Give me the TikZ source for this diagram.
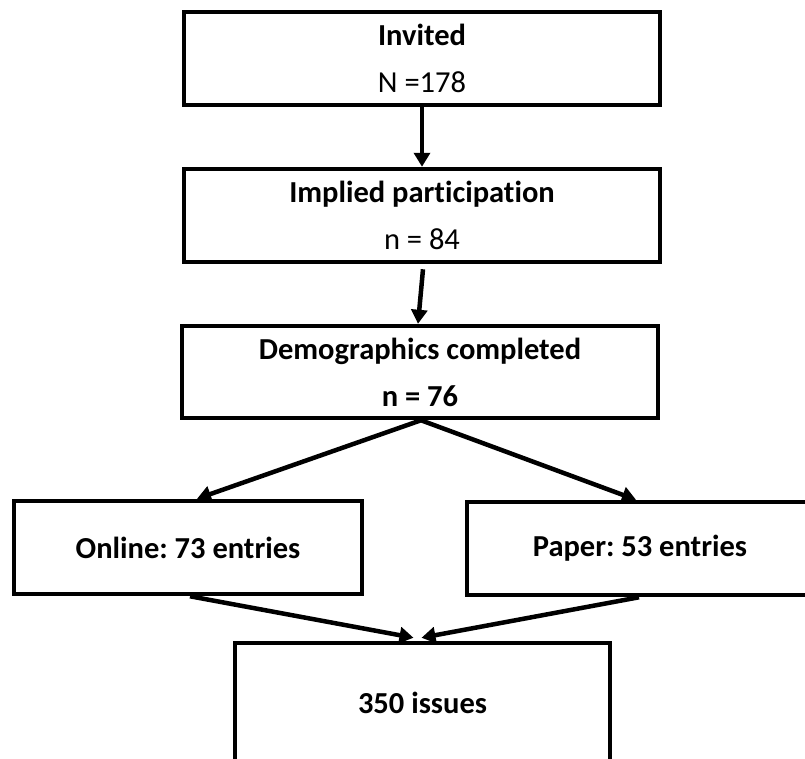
\documentclass[tikz,border=0pt]{standalone}
\usepackage{fontspec}
\setmainfont{Carlito}[Ligatures=NoCommon]
\usetikzlibrary{arrows.meta}
\begin{document}
\frenchspacing
\begin{tikzpicture}[x=1pt,y=-1pt,
  box/.style={draw=black, line width=4.5pt, rectangle, align=center, inner sep=0pt,
    font=\fontsize{30.5}{47}\selectfont\bfseries},
  arr/.style={line width=4.5pt, -{Triangle[length=14pt,width=16pt]}}]
\useasboundingbox (0,0) rectangle (805,758);
\clip (0,0) rectangle (805,758);
\node[box, minimum width=476pt, minimum height=93pt] (inv) at (422,58.5) {Invited\\\mdseries N =178};
\node[box, minimum width=476pt, minimum height=93pt] (imp) at (422,215.5) {Implied participation\\\mdseries n = 84};
\node[box, minimum width=476pt, minimum height=92pt] (dem) at (420,372) {Demographics completed\\n = 76};
\node[box, minimum width=348pt, minimum height=93pt] (onl) at (188,547.5) {Online: 73 entries};
\node[box, minimum width=346pt, minimum height=93pt] (pap) at (640,548.5) {Paper: 53 entries};
\node[box, minimum width=375pt, minimum height=120pt] (iss) at (422.5,703) {350 issues};
\draw[arr] (inv.south) -- (imp.north);
\draw[arr] ([xshift=1pt,yshift=-5pt]imp.south) -- ([xshift=-2pt]dem.north);
\draw[arr] ([xshift=1pt]dem.south) -- ([xshift=9pt]onl.north);
\draw[arr] ([xshift=1pt]dem.south) -- ([xshift=-4pt]pap.north);
\draw[arr] ([xshift=2pt]onl.south) -- ([xshift=-9pt,yshift=3pt]iss.north);
\draw[arr] ([xshift=-1pt]pap.south) -- ([xshift=-1pt,yshift=3pt]iss.north);
\end{tikzpicture}
\end{document}
